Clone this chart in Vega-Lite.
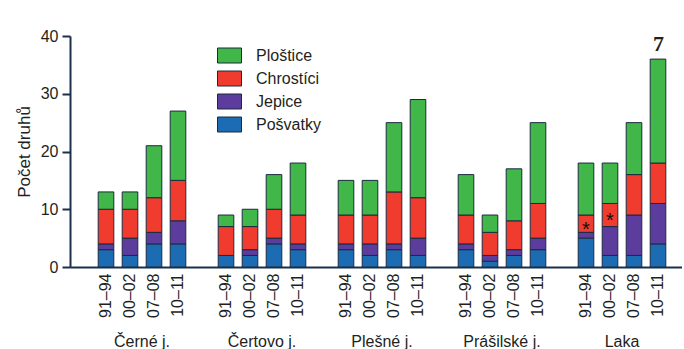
{
  "$schema": "https://vega.github.io/schema/vega-lite/v6.json",
  "background": "white",
  "padding": {"left": 15, "top": 28, "right": 0, "bottom": 0},
  "width": 612,
  "height": 231,
  "config": {
    "font": "Liberation Sans",
    "view": {"stroke": null},
    "axis": {"grid": false, "labelColor": "#231f20", "titleColor": "#231f20", "domainColor": "#1c2f4b", "tickColor": "#1c2f4b"}
  },
  "title": {"text": "7", "font": "Liberation Serif", "fontSize": 22, "fontWeight": "bold", "anchor": "end", "offset": -14, "dx": -18, "dy": 14, "color": "#231f20"},
  "resolve": {"scale": {"x": "independent"}, "axis": {"x": "independent"}},
  "layer": [
    {
      "layer": [
        {
          "data": {"values": [
            {"key": "Černé j.|91–94", "Pošvatky": 3, "Jepice": 1, "Chrostíci": 6, "Ploštice": 3},
            {"key": "Černé j.|00–02", "Pošvatky": 2, "Jepice": 3, "Chrostíci": 5, "Ploštice": 3},
            {"key": "Černé j.|07–08", "Pošvatky": 4, "Jepice": 2, "Chrostíci": 6, "Ploštice": 9},
            {"key": "Černé j.|10–11", "Pošvatky": 4, "Jepice": 4, "Chrostíci": 7, "Ploštice": 12},
            {"key": "Čertovo j.|91–94", "Pošvatky": 2, "Jepice": 0, "Chrostíci": 5, "Ploštice": 2},
            {"key": "Čertovo j.|00–02", "Pošvatky": 2, "Jepice": 1, "Chrostíci": 4, "Ploštice": 3},
            {"key": "Čertovo j.|07–08", "Pošvatky": 4, "Jepice": 1, "Chrostíci": 5, "Ploštice": 6},
            {"key": "Čertovo j.|10–11", "Pošvatky": 3, "Jepice": 1, "Chrostíci": 5, "Ploštice": 9},
            {"key": "Plešné j.|91–94", "Pošvatky": 3, "Jepice": 1, "Chrostíci": 5, "Ploštice": 6},
            {"key": "Plešné j.|00–02", "Pošvatky": 2, "Jepice": 2, "Chrostíci": 5, "Ploštice": 6},
            {"key": "Plešné j.|07–08", "Pošvatky": 3, "Jepice": 1, "Chrostíci": 9, "Ploštice": 12},
            {"key": "Plešné j.|10–11", "Pošvatky": 2, "Jepice": 3, "Chrostíci": 7, "Ploštice": 17},
            {"key": "Prášilské j.|91–94", "Pošvatky": 3, "Jepice": 1, "Chrostíci": 5, "Ploštice": 7},
            {"key": "Prášilské j.|00–02", "Pošvatky": 1, "Jepice": 1, "Chrostíci": 4, "Ploštice": 3},
            {"key": "Prášilské j.|07–08", "Pošvatky": 2, "Jepice": 1, "Chrostíci": 5, "Ploštice": 9},
            {"key": "Prášilské j.|10–11", "Pošvatky": 3, "Jepice": 2, "Chrostíci": 6, "Ploštice": 14},
            {"key": "Laka|91–94", "Pošvatky": 5, "Jepice": 1, "Chrostíci": 3, "Ploštice": 9},
            {"key": "Laka|00–02", "Pošvatky": 2, "Jepice": 5, "Chrostíci": 4, "Ploštice": 7},
            {"key": "Laka|07–08", "Pošvatky": 2, "Jepice": 7, "Chrostíci": 7, "Ploštice": 9},
            {"key": "Laka|10–11", "Pošvatky": 4, "Jepice": 7, "Chrostíci": 7, "Ploštice": 18}
          ]},
          "transform": [
            {"fold": ["Pošvatky", "Jepice", "Chrostíci", "Ploštice"], "as": ["taxon", "count"]},
            {"window": [{"op": "row_number", "as": "layer"}], "groupby": ["key"]}
          ],
          "mark": {"type": "bar", "stroke": "#1b2a3f", "strokeWidth": 1},
          "encoding": {
            "x": {
              "field": "key", "type": "nominal",
              "scale": {
                "domain": ["lead|",
                  "Černé j.|91–94", "Černé j.|00–02", "Černé j.|07–08", "Černé j.|10–11", "gap1|",
                  "Čertovo j.|91–94", "Čertovo j.|00–02", "Čertovo j.|07–08", "Čertovo j.|10–11", "gap2|",
                  "Plešné j.|91–94", "Plešné j.|00–02", "Plešné j.|07–08", "Plešné j.|10–11", "gap3|",
                  "Prášilské j.|91–94", "Prášilské j.|00–02", "Prášilské j.|07–08", "Prášilské j.|10–11", "gap4|",
                  "Laka|91–94", "Laka|00–02", "Laka|07–08", "Laka|10–11"],
                "paddingInner": 0.35, "paddingOuter": 0.425, "align": 0.206
              },
              "axis": {"title": null, "labelExpr": "split(datum.value, '|')[1]", "labelAngle": 270, "labelFontSize": 16, "labelPadding": 6, "ticks": false, "domainWidth": 2}
            },
            "y": {
              "field": "count", "type": "quantitative", "stack": "zero",
              "scale": {"domain": [0, 40]},
              "axis": {"title": "Počet druhů", "titleFontSize": 17, "titleFontWeight": "normal", "titlePadding": 7, "values": [0, 10, 20, 30, 40], "labelFontSize": 16, "labelPadding": 4, "tickSize": 8, "tickWidth": 2, "domainWidth": 2}
            },
            "order": {"field": "layer", "type": "quantitative", "sort": "ascending"},
            "color": {
              "field": "taxon", "type": "nominal",
              "scale": {"domain": ["Ploštice", "Chrostíci", "Jepice", "Pošvatky"], "range": ["#41b649", "#ef3c2f", "#5c3c9c", "#1c6cb3"]},
              "legend": {"title": null, "orient": "none", "legendX": 147, "legendY": 7, "symbolType": "M-1,-0.625H1V0.625H-1Z", "symbolSize": 576, "symbolStrokeColor": "#1b2a3f", "symbolStrokeWidth": 1, "symbolOpacity": 1, "labelFontSize": 16, "labelColor": "#231f20", "labelOffset": 14, "rowPadding": 1}
            }
          }
        },
        {
          "data": {"values": [
            {"key": "Laka|91–94", "y": 7.5, "note": "*"},
            {"key": "Laka|00–02", "y": 9, "note": "*"}
          ]},
          "mark": {"type": "text", "fontSize": 20, "color": "#111111", "baseline": "middle", "dy": 6},
          "encoding": {
            "x": {"field": "key", "type": "nominal"},
            "y": {"field": "y", "type": "quantitative"},
            "text": {"field": "note"}
          }
        }
      ]
    },
    {
      "data": {"values": [
        {"group": "Černé j."},
        {"group": "Čertovo j."},
        {"group": "Plešné j."},
        {"group": "Prášilské j."},
        {"group": "Laka"}
      ]},
      "mark": {"type": "text", "text": ""},
      "encoding": {
        "x": {
          "field": "group", "type": "nominal", "sort": null,
          "scale": {"type": "band", "paddingInner": 0, "paddingOuter": 0.05, "align": 1},
          "axis": {"title": null, "orient": "bottom", "domain": false, "ticks": false, "labelAngle": 0, "labelFontSize": 16, "labelPadding": 66}
        }
      }
    }
  ]
}
